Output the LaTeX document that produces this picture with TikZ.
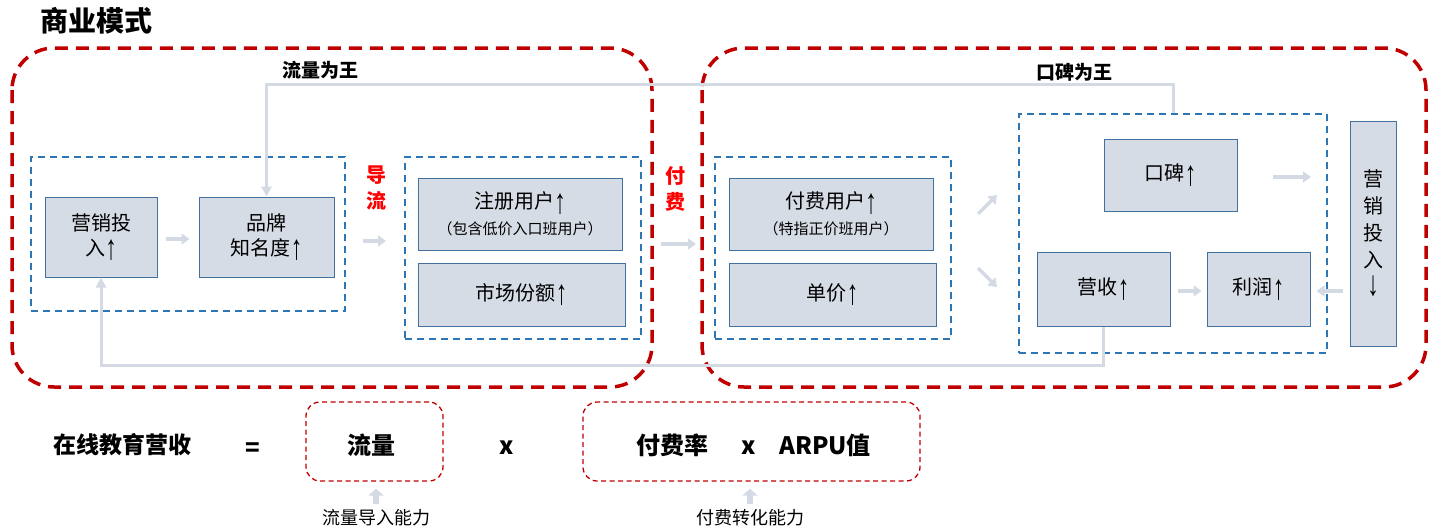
\documentclass[tikz,border=0pt]{standalone}
\usepackage{fontspec}
\usepackage{graphicx}
\setmainfont{Noto Sans CJK SC}
\newfontfamily\arrfont{Liberation Sans}
\newcommand{\UpA}{\raisebox{-0.22em}{\scalebox{1.15}[1.75]{\arrfont ↑}}}
\newcommand{\DnA}{\raisebox{-0.05em}{\scalebox{1.15}[1.75]{\arrfont ↓}}}
\usetikzlibrary{arrows.meta,positioning,calc}
\definecolor{boxfill}{HTML}{D6DCE5}
\definecolor{boxborder}{HTML}{41719C}
\definecolor{bluedash}{HTML}{2E75B6}
\definecolor{reddash}{HTML}{C00000}
\definecolor{garr}{HTML}{D3DAE4}
\definecolor{redtext}{HTML}{FF0000}
\tikzset{
  box/.style={draw=boxborder, fill=boxfill, line width=1pt, align=center, inner sep=0pt,
    font=\fontsize{20}{25}\selectfont},
  grp/.style={draw=bluedash, line width=2pt, dash pattern=on 7pt off 5pt, inner sep=0pt},
  bigred/.style={draw=reddash, line width=3.5pt, dash pattern=on 13pt off 8pt, rounded corners=42pt},
  smallred/.style={draw=reddash, line width=1.3pt, dash pattern=on 5pt off 3.5pt, rounded corners=14pt, inner sep=0pt},
  garrow/.style={draw=garr, line width=3.5pt, -{Triangle[length=8pt,width=11pt]}},
  fbarrow/.style={draw=garr, line width=3pt, -{Triangle[length=10pt,width=10pt]}},
  uparrow/.style={draw=garr, line width=6pt, -{Triangle[length=7pt,width=15pt]}},
  lbl/.style={font=\fontsize{19}{22}\selectfont\bfseries, inner sep=0pt},
  redlbl/.style={font=\fontsize{20}{26}\selectfont\bfseries, text=redtext, align=center, inner sep=0pt},
  eq/.style={font=\fontsize{24}{28}\selectfont\bfseries, inner sep=0pt},
  captxt/.style={font=\fontsize{18}{20}\selectfont, inner sep=0pt},
}
\begin{document}
\begin{tikzpicture}[x=1pt,y=-1pt]
\useasboundingbox (0,0) rectangle (1438,531);

% title
\node[font=\fontsize{28}{30}\selectfont\bfseries, inner sep=0pt] (title) at (96,21) {商业模式};

% big red groups
\draw[bigred] (12,48) rectangle (652,387);
\draw[bigred] (702,48) rectangle (1426,387);
\node[lbl] (t1) at (320,70) {流量为王};
\node[lbl] (t2) at (1074,72) {口碑为王};

% blue dashed groups
\node[grp, minimum width=314pt, minimum height=154pt] (g1) at (188,234) {};
\node[grp, minimum width=236pt, minimum height=182pt] (g2) at (523,248) {};
\node[grp, minimum width=236pt, minimum height=182pt] (g3) at (833,248) {};
\node[grp, minimum width=308pt, minimum height=239pt] (g4) at (1173,233.5) {};

% boxes
\node[box, minimum width=112pt, minimum height=80pt] (m1) at (101,237) {营销投\\入\UpA};
\node[box, minimum width=135pt, minimum height=80pt] (m2) at (266.5,237) {品牌\\知名度\UpA};
\node[box, minimum width=204pt, minimum height=72pt] (reg) at (520,214)
  {注册用户\UpA\\[1pt]{\fontsize{15}{18}\selectfont （包含低价入口班用户）}};
\node[box, minimum width=207pt, minimum height=63pt] (share) at (521.5,294.5) {市场份额\UpA};
\node[box, minimum width=204pt, minimum height=72pt] (pay) at (831,214)
  {付费用户\UpA\\[1pt]{\fontsize{15}{18}\selectfont （特指正价班用户）}};
\node[box, minimum width=207pt, minimum height=63pt] (price) at (832.5,294.5) {单价\UpA};
\node[box, minimum width=133pt, minimum height=72pt] (wom) at (1170.5,175) {口碑\UpA};
\node[box, minimum width=133pt, minimum height=74pt] (rev) at (1103.5,289) {营收\UpA};
\node[box, minimum width=103pt, minimum height=74pt] (prof) at (1258.5,289) {利润\UpA};
\node[box, minimum width=46pt, minimum height=225pt, font=\fontsize{20}{27}\selectfont] (mk) at (1373,233.5) {营\\销\\投\\入\\\DnA};

% red labels
\node[redlbl] (dl) at (376,188) {导\\流};
\node[redlbl] (ff) at (675,189) {付\\费};

% short arrows (yshift is in canvas: positive = up)
\draw[garrow] ([xshift=8pt,yshift=-2pt]m1.east) -- ([xshift=-9pt,yshift=-2pt]m2.west);
\draw[garrow] ([xshift=17pt,yshift=-7pt]g1.east) -- ([xshift=-18pt,yshift=7pt]g2.west);
\draw[garrow] ([xshift=19pt,yshift=4pt]g2.east) -- ([xshift=-18pt,yshift=4pt]g3.west);
\coordinate (d1s) at (978,214);
\coordinate (d1e) at (997,195);
\coordinate (d2s) at (978,268);
\coordinate (d2e) at (997,287);
\draw[garrow] (d1s) -- (d1e);
\draw[garrow] (d2s) -- (d2e);
\draw[garrow] ([xshift=35pt,yshift=-2pt]wom.east) -- ($(g4.east |- wom.east)+(-17pt,-2pt)$);
\draw[garrow] ([xshift=7pt,yshift=-2pt]rev.east) -- ([xshift=-5pt,yshift=-2pt]prof.west);
\draw[garrow] ($(mk.west |- prof.east)+(-7pt,-2pt)$) -- ([xshift=6pt,yshift=-2pt]prof.east);

% feedback loops
\draw[fbarrow] (g4.north) -- ++(0,-29) -| (m2.north);
\draw[fbarrow] (rev.south) -- ++(0,39) -| (m1.south);

% bottom formula
\node[font=\fontsize{23}{26}\selectfont\bfseries, inner sep=0pt] (inc) at (122,445) {在线教育营收};
\node[eq] (eqs) at (253,450) {=};
\node[smallred, minimum width=137pt, minimum height=79pt] (b1) at (374.5,441.5) {};
\node[eq] (fl) at (371,445) {流量};
\node[eq] (x1) at (507,448) {x};
\node[smallred, minimum width=337pt, minimum height=79pt] (b2) at (751.5,441.5) {};
\node[eq] (ffl) at (672,445) {付费率};
\node[eq] (x2) at (749,448) {x};
\node[eq] (arpu) at (825,445) {ARPU值};
\node[captxt] (c1) at (376,518) {流量导入能力};
\node[captxt] (c2) at (750,518) {付费转化能力};
\draw[uparrow] ([yshift=5pt]c1.north) -- ($(b1.south -| c1.north)+(0,-7pt)$);
\draw[uparrow] ([yshift=5pt]c2.north) -- ($(b2.south -| c2.north)+(0,-7pt)$);
\end{tikzpicture}
\end{document}
